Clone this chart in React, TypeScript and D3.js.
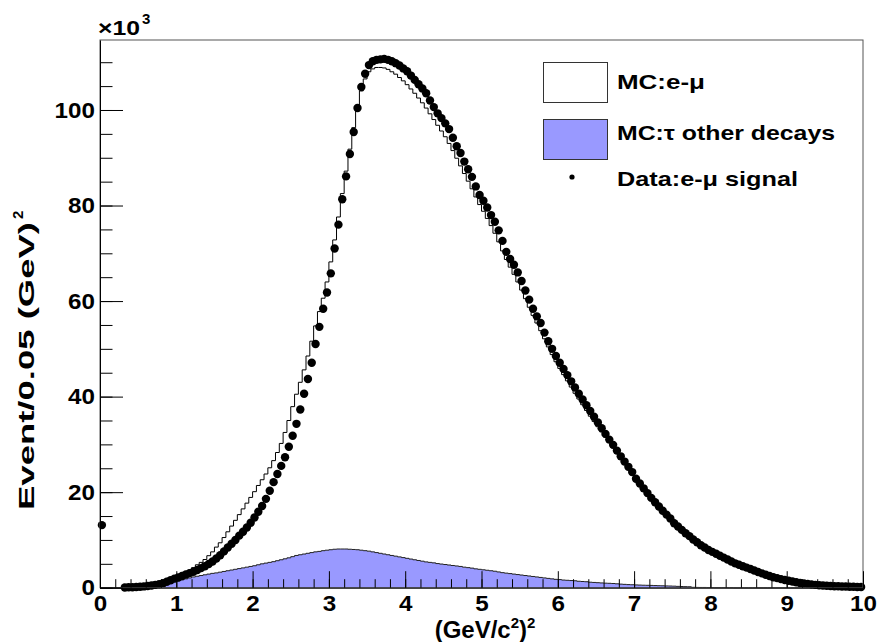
import * as d3 from "d3";
import React, { useEffect, useRef } from "react";

// bins of 0.05 (GeV/c^2)^2 from 0 to 10, values in units of 10^3 events
const binWidth = 0.05;
const xMajorTicks = [0, 1, 2, 3, 4, 5, 6, 7, 8, 9, 10];
const yMajorTicks = [0, 20, 40, 60, 80, 100];
const legendLabels = ["MC:e-\u03bc", "MC:\u03c4 other decays", "Data:e-\u03bc signal"];

const mcEmu = [
  0, 0, 0, 0, 0, 0, 0.05, 0.08, 0.1, 0.15,
  0.2, 0.28, 0.38, 0.5, 0.65, 0.82, 1.0, 1.25, 1.6, 2.0,
  2.4, 2.8, 3.2, 3.7, 4.2, 4.8, 5.3, 5.9, 6.7, 7.5,
  8.5, 9.4, 10.5, 11.7, 12.9, 14.1, 15.3, 16.5, 17.7, 18.9,
  20.1, 21.4, 22.6, 23.8, 25.1, 26.6, 28.3, 30.2, 32.5, 35.0,
  37.9, 40.5, 43.0, 45.6, 48.5, 51.6, 54.8, 57.8, 60.6, 64.0,
  68.2, 72.8, 77.6, 82.5, 87.2, 91.8, 96.3, 100.6, 104.0, 106.5,
  108.0, 108.6, 108.9, 108.9, 108.8, 108.5, 108.0, 107.5, 106.8, 106.1,
  105.3, 104.4, 103.5, 102.5, 101.5, 100.4, 99.2, 98.0, 96.8, 95.6,
  94.4, 93.0, 91.5, 89.9, 88.3, 86.7, 85.1, 83.5, 81.8, 80.2,
  78.8, 77.3, 75.8, 74.2, 72.4, 70.5, 68.7, 67.1, 65.6, 64.0,
  62.3, 60.5, 58.7, 57.0, 55.4, 53.8, 52.1, 50.4, 48.8, 47.3,
  45.9, 44.6, 43.3, 42.0, 40.7, 39.5, 38.3, 37.1, 35.9, 34.8,
  33.7, 32.6, 31.5, 30.4, 29.3, 28.2, 27.1, 26.0, 25.0, 24.0,
  22.9, 21.9, 20.9, 19.9, 18.9, 18.0, 17.1, 16.2, 15.3, 14.5,
  13.3, 12.6, 11.9, 11.2, 10.6, 10.0, 9.4, 8.8, 8.3, 7.8,
  7.4, 7.0, 6.6, 6.2, 5.8, 5.4, 5.0, 4.7, 4.4, 4.1,
  3.8, 3.5, 3.2, 2.9, 2.65, 2.4, 2.15, 1.95, 1.75, 1.55,
  1.4, 1.25, 1.1, 0.95, 0.85, 0.75, 0.65, 0.55, 0.48, 0.42,
  0.38, 0.33, 0.29, 0.26, 0.23, 0.2, 0.18, 0.16, 0.14, 0.12,
];

const mcTauOther = [
  0, 0, 0, 0, 0, 0, 0, 0, 0, 0,
  0, 0, 0.02, 0.05, 0.15, 0.3, 0.5, 0.75, 1.0, 1.25,
  1.45, 1.65, 1.85, 2.05, 2.25, 2.4, 2.55, 2.7, 2.85, 3.0,
  3.1, 3.25, 3.4, 3.55, 3.7, 3.85, 4.0, 4.15, 4.3, 4.45,
  4.6, 4.8, 5.0, 5.15, 5.3, 5.45, 5.65, 5.85, 6.05, 6.25,
  6.5, 6.75, 6.9, 7.05, 7.2, 7.35, 7.5, 7.6, 7.75, 7.85,
  7.95, 8.05, 8.1, 8.1, 8.1, 8.05, 8.0, 7.95, 7.85, 7.75,
  7.65, 7.5, 7.35, 7.2, 7.05, 6.9, 6.75, 6.6, 6.45, 6.3,
  6.15, 6.0, 5.85, 5.7, 5.55, 5.4, 5.3, 5.2, 5.05, 4.95,
  4.85, 4.75, 4.65, 4.55, 4.45, 4.3, 4.2, 4.1, 3.95, 3.85,
  3.75, 3.65, 3.55, 3.45, 3.3, 3.15, 3.05, 2.95, 2.85, 2.75,
  2.65, 2.55, 2.45, 2.35, 2.25, 2.15, 2.05, 1.95, 1.85, 1.75,
  1.7, 1.6, 1.55, 1.5, 1.45, 1.35, 1.3, 1.25, 1.15, 1.1,
  1.05, 1.0, 0.95, 0.92, 0.88, 0.82, 0.75, 0.7, 0.65, 0.62,
  0.58, 0.55, 0.52, 0.5, 0.48, 0.45, 0.42, 0.4, 0.37, 0.35,
  0.32, 0.28, 0.25, 0.22, 0.2, 0.08, 0.06, 0.05, 0.05, 0.04,
  0.04, 0.03, 0.03, 0.03, 0.02, 0.02, 0, 0, 0, 0,
  0, 0, 0, 0, 0, 0, 0, 0, 0, 0,
  0, 0, 0, 0, 0, 0, 0, 0, 0, 0,
  0, 0, 0, 0, 0, 0, 0, 0, 0, 0,
];

const dataSignal = [
  13.1, null, null, null, null, null, 0.05, 0.08, 0.1, 0.15,
  0.2, 0.27, 0.35, 0.47, 0.6, 0.75, 0.95, 1.25, 1.55, 1.9,
  2.15, 2.45, 2.75, 3.05, 3.35, 3.7, 4.1, 4.5, 4.95, 5.5,
  6.1, 6.8, 7.6, 8.4, 9.2, 10.0, 10.9, 11.7, 12.6, 13.6,
  14.7, 15.9, 17.1, 18.6, 20.3, 22.1, 23.8, 25.5, 27.3, 29.5,
  31.8, 34.3, 37.3, 40.6, 43.7, 47.1, 51.0, 54.6, 58.4, 61.8,
  65.8, 71.0, 76.0, 81.3, 86.1, 90.8, 95.4, 100.4, 104.8, 107.6,
  109.4, 110.2, 110.5, 110.6, 110.7, 110.5, 110.2, 109.8, 109.3, 108.7,
  108.1, 107.2, 106.3, 105.4, 104.5, 103.5, 102.0, 100.6, 99.3, 98.3,
  97.2, 96.0, 94.2, 92.4, 91.0, 89.2, 87.6, 86.0, 84.0, 82.2,
  81.0, 79.6, 78.0, 76.6, 74.8, 72.6, 70.3, 68.8, 67.6, 66.0,
  64.2, 62.2, 60.3, 58.4, 56.8, 55.4, 53.4, 51.6, 50.0, 48.5,
  47.1, 45.8, 44.5, 43.2, 41.9, 40.6, 39.4, 38.2, 37.0, 35.8,
  34.6, 33.4, 32.2, 31.0, 29.9, 28.7, 27.5, 26.4, 25.3, 24.2,
  22.8, 21.8, 20.8, 19.8, 18.8, 17.9, 17.0, 16.1, 15.3, 14.5,
  13.5, 12.8, 12.1, 11.4, 10.8, 10.1, 9.5, 8.9, 8.4, 7.9,
  7.5, 7.1, 6.7, 6.3, 5.9, 5.5, 5.1, 4.8, 4.5, 4.2,
  3.9, 3.6, 3.3, 3.0, 2.7, 2.45, 2.2, 2.0, 1.8, 1.6,
  1.45, 1.3, 1.15, 1.0, 0.9, 0.8, 0.7, 0.6, 0.5, 0.45,
  0.4, 0.35, 0.3, 0.3, 0.25, 0.25, 0.2, 0.2, 0.15, 0.15,
];

const FONT = "'Liberation Sans', Arial, Helvetica, sans-serif";

// the original fonts run a bit wider than Liberation Sans
function widen(sel, factor) {
  sel.each(function () {
    const len = this.getComputedTextLength();
    d3.select(this).attr("textLength", len * factor).attr("lengthAdjust", "spacingAndGlyphs");
  });
}

function App() {
  const ref = useRef<SVGSVGElement>(null);

  useEffect(() => {
    const svg = d3.select(ref.current);
    svg.selectAll("*").remove();

    const width = 879;
    const height = 642;
    const margin = { top: 40, left: 100, bottom: 54.3, right: 16 };

    const x = d3.scaleLinear().domain([0, 10]).range([margin.left, width - margin.right]);
    const y = d3.scaleLinear().domain([0, 114.65]).range([height - margin.bottom, margin.top]);

    svg.append("rect").attr("width", width).attr("height", height).attr("fill", "#fff");

    // step outlines of a histogram: one point per lower bin edge plus the last upper edge
    const steps = (vals) => {
      const pts = vals.map((v, i) => [i * binWidth, v]);
      pts.push([vals.length * binWidth, vals[vals.length - 1]]);
      return pts;
    };

    const stepLine = d3.line()
      .curve(d3.curveStepAfter)
      .x(d => x(d[0]))
      .y(d => y(d[1]));

    const stepArea = d3.area()
      .curve(d3.curveStepAfter)
      .x(d => x(d[0]))
      .y0(y(0))
      .y1(d => y(d[1]));

    // MC tau other decays (filled)
    svg.append("path")
      .attr("d", stepArea(steps(mcTauOther)))
      .attr("fill", "#9999ff");
    svg.append("path")
      .attr("d", stepLine(steps(mcTauOther)))
      .attr("fill", "none")
      .attr("stroke", "#222")
      .attr("stroke-width", 1);

    // MC e-mu outline
    svg.append("path")
      .attr("d", stepLine(steps(mcEmu)))
      .attr("fill", "none")
      .attr("stroke", "#000")
      .attr("stroke-width", 1);

    // data markers
    svg.append("g")
      .selectAll("circle")
      .data(dataSignal.map((v, i) => ({ v, i })).filter(d => d.v !== null))
      .enter().append("circle")
      .attr("cx", d => x((d.i + 0.5) * binWidth))
      .attr("cy", d => y(d.v))
      .attr("r", 4.2)
      .attr("fill", "#000");

    // frame
    svg.append("rect")
      .attr("x", margin.left)
      .attr("y", margin.top)
      .attr("width", width - margin.left - margin.right)
      .attr("height", height - margin.top - margin.bottom)
      .attr("fill", "none")
      .attr("stroke", "#555")
      .attr("stroke-width", 1);

    const bottom = height - margin.bottom;

    // x axis: minor ticks every 0.2, major every 1
    const xMinor = d3.range(0, 50.5).map(k => k * 0.2);
    svg.append("g")
      .attr("transform", `translate(0, ${bottom})`)
      .call(d3.axisBottom(x).tickValues(xMinor).tickSize(-8.5).tickSizeOuter(0).tickFormat(() => ""))
      .call(g => g.select(".domain").remove());
    const gx = svg.append("g")
      .attr("transform", `translate(0, ${bottom})`)
      .call(d3.axisBottom(x).tickValues(xMajorTicks).tickSize(-16.5).tickSizeOuter(0).tickPadding(8).tickFormat(d3.format("d")));
    gx.attr("font-family", FONT).attr("font-size", 22).attr("font-weight", "bold");
    gx.select(".domain").attr("stroke", "#000");
    gx.selectAll("text").attr("fill", "#000").call(widen, 1.1);

    // y axis: minor ticks every 5, major every 20
    const yMinor = d3.range(0, 23).map(k => k * 5);
    svg.append("g")
      .attr("transform", `translate(${margin.left}, 0)`)
      .call(d3.axisLeft(y).tickValues(yMinor).tickSize(-12.5).tickSizeOuter(0).tickFormat(() => ""))
      .call(g => g.select(".domain").remove());
    const gy = svg.append("g")
      .attr("transform", `translate(${margin.left}, 0)`)
      .call(d3.axisLeft(y).tickValues(yMajorTicks).tickSize(-23).tickSizeOuter(0).tickPadding(5).tickFormat(d3.format("d")));
    gy.attr("font-family", FONT).attr("font-size", 22).attr("font-weight", "bold");
    gy.select(".domain").attr("stroke", "#000");
    gy.selectAll("text").attr("fill", "#000").call(widen, 1.1);

    // x10^3 multiplier
    svg.append("text")
      .attr("x", 98)
      .attr("y", 35)
      .attr("font-family", FONT)
      .attr("font-size", 21)
      .attr("font-weight", "bold")
      .attr("textLength", 42)
      .attr("lengthAdjust", "spacingAndGlyphs")
      .text("\u00d710");
    svg.append("text")
      .attr("x", 142)
      .attr("y", 24)
      .attr("font-family", FONT)
      .attr("font-size", 15)
      .attr("font-weight", "bold")
      .text("3");

    // y axis title
    const yt = svg.append("g")
      .attr("transform", "translate(34, 360) rotate(-90)")
      .attr("font-family", FONT)
      .attr("font-weight", "bold");
    yt.append("text")
      .attr("x", -150)
      .attr("font-size", 22)
      .attr("textLength", 288)
      .attr("lengthAdjust", "spacingAndGlyphs")
      .text("Event/0.05 (GeV)");
    yt.append("text")
      .attr("x", 141)
      .attr("y", -11)
      .attr("font-size", 15)
      .text("2");

    // x axis title
    const xt = svg.append("text")
      .attr("x", 485)
      .attr("y", 638)
      .attr("text-anchor", "middle")
      .attr("font-family", FONT)
      .attr("font-size", 24)
      .attr("font-weight", "bold");
    xt.append("tspan").text("(GeV/c");
    xt.append("tspan").attr("font-size", 15).attr("dy", -10).text("2");
    xt.append("tspan").attr("dy", 10).text(")");
    xt.append("tspan").attr("font-size", 15).attr("dy", -10).text("2");

    // legend
    const leg = svg.append("g").attr("font-family", FONT).attr("font-weight", "bold").attr("font-size", 21);
    leg.append("rect").attr("x", 543.5).attr("y", 62.5).attr("width", 64).attr("height", 40)
      .attr("fill", "#fff").attr("stroke", "#333").attr("stroke-width", 1);
    leg.append("rect").attr("x", 543.5).attr("y", 119.5).attr("width", 64).attr("height", 40)
      .attr("fill", "#9999ff").attr("stroke", "#333").attr("stroke-width", 1);
    leg.append("circle").attr("cx", 572).attr("cy", 177).attr("r", 2.6).attr("fill", "#000");
    const legY = [89, 140, 186];
    const legW = [88, 218, 181];
    leg.selectAll("text.lab")
      .data(legendLabels)
      .enter().append("text")
      .attr("class", "lab")
      .attr("x", 617)
      .attr("y", (d, i) => legY[i])
      .attr("textLength", (d, i) => legW[i])
      .attr("lengthAdjust", "spacingAndGlyphs")
      .text(d => d);
  }, []);

  return (
    <svg ref={ref} width={879} height={642} style={{ position: "absolute", left: 0, top: 0 }}></svg>
  );
}

export default App;
